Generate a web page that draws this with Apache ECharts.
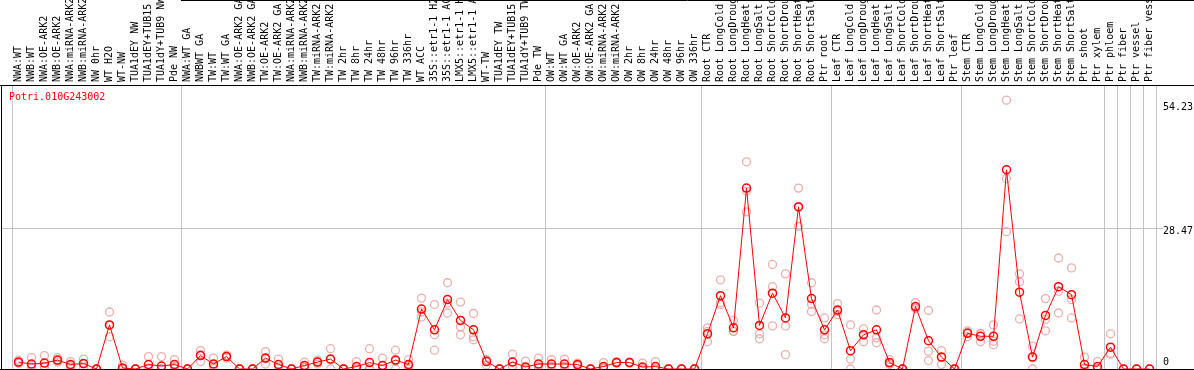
<!DOCTYPE html>
<html><head><meta charset="utf-8">
<script src="https://cdn.jsdelivr.net/npm/echarts@6/dist/echarts.min.js"></script>
<style>html,body{margin:0;padding:0;background:#fff}#c{width:1194px;height:370px}</style>
</head><body><div id="c"></div>
<script>
const geneId = 'Potri.010G243002';

const categories = [
'NWA:WT','NWB:WT','NWA:OE-ARK2','NWB:OE-ARK2','NWA:miRNA-ARK2','NWB:miRNA-ARK2','NW 0hr','WT H2O','WT-NW','TUA1dEY NW','TUA1dEY+TUB15 NW','TUA1dY+TUB9 NW','Pde NW',
'NWA:WT GA','NWBWT GA','TW:WT','TW:WT GA','NWA:OE-ARK2 GA','NWB:OE-ARK2 GA','TW:OE-ARK2','TW:OE-ARK2 GA','NWA:miRNA-ARK2','NWB:miRNA-ARK2','TW:miRNA-ARK2','TW:miRNA-ARK2','TW 2hr','TW 8hr','TW 24hr','TW 48hr','TW 96hr','TW 336hr','WT ACC','35S::etr1-1 H2O','35S::etr1-1 ACC','LMX5::etr1-1 H2O','LMX5::etr1-1 ACC','WT-TW','TUA1dEY TW','TUA1dEY+TUB15 TW','TUA1dY+TUB9 TW','Pde TW',
'OW:WT','OW:WT GA','OW:OE-ARK2','OW:OE-ARK2 GA','OW:miRNA-ARK2','OW:miRNA-ARK2','OW 2hr','OW 8hr','OW 24hr','OW 48hr','OW 96hr','OW 336hr',
'Root CTR','Root LongCold','Root LongDrought','Root LongHeat','Root LongSalt','Root ShortCold','Root ShortDrought','Root ShortHeat','Root ShortSalt','Ptr root',
'Leaf CTR','Leaf LongCold','Leaf LongDrought','Leaf LongHeat','Leaf LongSalt','Leaf ShortCold','Leaf ShortDrought','Leaf ShortHeat','Leaf ShortSalt','Ptr leaf',
'Stem CTR','Stem LongCold','Stem LongDrought','Stem LongHeat','Stem LongSalt','Stem ShortCold','Stem ShortDrought','Stem ShortHeat','Stem ShortSalt','Ptr shoot','Ptr xylem',
'Ptr phloem','Ptr fiber','Ptr vessel','Ptr fiber vessel'
];

const meanValues = [
1.4,1.0,1.2,1.8,0.9,1.1,0,8.9,0.2,0,0.9,0.6,0.9,
0,2.7,1.0,2.5,0,0,2.2,0.9,0,0.7,1.4,2.0,0,0.5,1.3,0.7,1.8,0.9,12.1,7.9,14.0,9.8,7.9,1.5,0,1.4,0.4,1.0,
1.0,1.0,0.9,0,0.5,1.3,1.3,0.4,0.5,0,0,0,
7.1,14.8,8.3,36.5,8.8,15.3,10.3,32.7,14.2,7.9,
11.9,3.7,6.9,7.9,1.3,0,12.6,5.7,2.4,0,
7.2,6.6,6.6,40.2,15.5,2.4,10.8,16.6,15.0,0.9,0.5,
4.4,0,0,0
];

const replicateValues = [
[1.8,1.2,1.2],[2.3,0.3,0.4],[2.7,0.3,0.6],[2.3,1.7,1.4],[1.5,0.4,0.7],[2.0,1.0,0.3],[0,0,0],[11.5,6.5,8.8],[0.8,0,0],[0,0,0],[2.5,0.2,0],[2.5,0,0],[1.9,0.5,0.2],
[0,0,0],[3.7,1.5,2.9],[2.2,0.2,0.6],[2.8,2.2,2.5],[0,0,0],[0,0,0],[3.5,1.0,2.1],[2.0,0.3,0.3],[0,0,0],[1.4,0.3,0.3],[1.8,1.0,1.4],[4.1,0,1.9],[0,0,0],[1.5,0.1,0],[4.1,0,0],[2.2,0,0],[3.8,0,1.6],[1.9,0.7,0],[14.3,10.5,11.5],[13.0,6.9,3.8],[17.4,13.3,11.3],[13.5,8.5,6.9],[11.2,6.5,5.9],[1.9,0.8,1.8],[0,0,0],[3.0,0.6,0.6],[1.6,0,0],[2.2,0.4,0.4],
[1.9,0.6,0.5],[2.0,0.5,0.5],[1.2,0.7,0.7],[0,0,0],[1.3,0.2,0.1],[1.5,1.2,1.2],[1.4,1.2,1.3],[1.2,0,0],[1.5,0.1,0],[0,0,0],[0,0,0],[0,0,0],
[8.3,5.5,7.6],[18.0,13.0,13.4],[9.8,7.6,7.6],[41.8,35.9,31.7],[13.3,7.1,6.1],[21.1,16.6,8.7],[19.2,8.7,2.9],[36.5,28.8,32.8],[17.4,13.1,11.6],[10.3,6.9,6.1],
[13.2,11.0,11.6],[8.9,2.0,0],[8.1,5.5,7.0],[11.9,6.3,5.3],[1.9,0.9,1.1],[0,0,0],[13.4,12.2,12.3],[11.8,3.6,1.7],[3.7,0.9,2.4],[0,0,0],
[7.7,6.5,7.4],[7.1,5.5,7.2],[8.9,5.6,4.9],[54.23,38.4,27.7],[19.2,17.6,10.1],[4.6,0,2.4],[14.2,10.0,7.7],[22.4,15.7,11.3],[20.4,14.0,10.3],[2.4,0,0.2],[1.5,0,0.1],
[7.1,3.2,3.0],[0],[0],[0]
];

// first category index of each group (a separator line is drawn before it)
const groupStarts = [0,13,41,53,63,73,84,85,86,87];

const yTickValues = [54.23, 28.47, 0];
const yTickLabels = ['54.23', '28.47', '0'];
const yGridValue = 28.47;

const MONO = 'DejaVu Sans Mono';
const GREY = '#c3c3c3';
const sepSet = new Set(groupStarts);
const labelOffsets = [7, 4, -7];

const repData = [];
replicateValues.forEach((reps, i) => reps.forEach(v => repData.push([i, v])));

const chart = echarts.init(document.getElementById('c'), null, {renderer: 'canvas'});
chart.setOption({
  animation: false,
  backgroundColor: '#fff',
  title: {
    text: geneId, left: 9, top: 92, padding: 0,
    textStyle: {color: '#ff0000', fontSize: 10, fontFamily: MONO, fontWeight: 'normal'}
  },
  grid: {left: 12, width: 1144, top: 85, bottom: 1, containLabel: false, outerBoundsMode: 'none'},
  xAxis: {
    type: 'category', position: 'top', data: categories, boundaryGap: true,
    axisLine: {show: false},
    axisTick: {show: true, interval: (idx) => sepSet.has(idx), length: 85, lineStyle: {color: GREY, width: 1}},
    axisLabel: {interval: 0, rotate: 90, margin: 3, fontFamily: MONO, fontSize: 10, color: '#000'},
    splitLine: {show: true, interval: (idx) => sepSet.has(idx), lineStyle: {color: GREY, width: 1}}
  },
  yAxis: {
    type: 'value', min: 0, max: 57.3,
    axisLine: {show: false}, axisTick: {show: false}, axisLabel: {show: false}, splitLine: {show: false}
  },
  series: [
    {
      type: 'scatter', name: 'replicates', data: repData, symbol: 'circle', symbolSize: 8, z: 2,
      itemStyle: {color: 'rgba(0,0,0,0)', borderColor: '#e99a9a', borderWidth: 1.3},
      silent: true
    },
    {
      type: 'line', name: 'mean', data: meanValues, symbol: 'circle', symbolSize: 8, z: 3,
      lineStyle: {color: '#ff0000', width: 1},
      itemStyle: {color: 'rgba(255,0,0,0)', borderColor: '#ff0000', borderWidth: 1.5},
      silent: true,
      markLine: {
        silent: true, symbol: 'none', animation: false,
        data: yTickValues.map((v, k) => ({
          yAxis: v,
          lineStyle: {color: 'rgba(0,0,0,0)', width: 1, type: 'solid'},
          label: {show: true, position: 'end', distance: 7, formatter: yTickLabels[k], offset: [0, labelOffsets[k]],
                  color: '#000', fontFamily: MONO, fontSize: 10}
        }))
      }
    }
  ]
});

// frame lines and the horizontal grid line (its y position comes from the value axis)
const gy = Math.round(chart.convertToPixel({yAxisIndex: 0}, yGridValue)) + 0.5;
chart.setOption({
  graphic: [
    {type: 'line', shape: {x1: 2, y1: gy, x2: 1163, y2: gy}, style: {stroke: GREY, lineWidth: 1}, z: 1},
    {type: 'line', shape: {x1: 0, y1: 85.5, x2: 1194, y2: 85.5}, style: {stroke: '#000', lineWidth: 1}, z: 10},
    {type: 'line', shape: {x1: 0, y1: 369.5, x2: 1194, y2: 369.5}, style: {stroke: '#000', lineWidth: 1}, z: 10},
    {type: 'line', shape: {x1: 1.5, y1: 85, x2: 1.5, y2: 370}, style: {stroke: '#000', lineWidth: 1}, z: 10},
    {type: 'line', shape: {x1: 181, y1: 0.5, x2: 1194, y2: 0.5}, style: {stroke: '#000', lineWidth: 1}, z: 10}
  ]
});
</script>
</body></html>
